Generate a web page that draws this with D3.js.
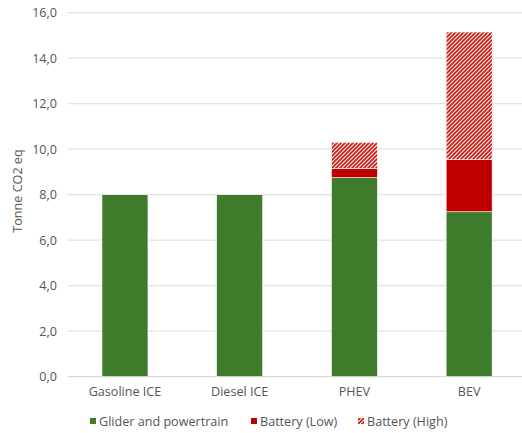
<!DOCTYPE html>
<html>
<head>
<meta charset="utf-8">
<script src="https://cdn.jsdelivr.net/npm/d3@7"></script>
<style>
  html, body { margin: 0; padding: 0; background: #fff; }
  svg { display: block; }
  text { font-family: "Open Sans", "Noto Sans", sans-serif; fill: #555555; }
</style>
</head>
<body>
<svg id="chart" width="522" height="433"></svg>
<script>
const categories = ["Gasoline ICE", "Diesel ICE", "PHEV", "BEV"];
const gliderValues = [8.0, 8.0, 8.75, 7.25];
const batteryLowValues = [0, 0, 0.4, 2.3];
const batteryHighValues = [0, 0, 1.15, 5.6];
const seriesNames = ["Glider and powertrain", "Battery (Low)", "Battery (High)"];
const yTicks = [0, 2, 4, 6, 8, 10, 12, 14, 16];

const svg = d3.select("#chart");
const margin = { left: 67.6, right: 526.5, top: 12.7, bottom: 376.7 };
const green = "#3e7b2b", red = "#c00000";
const fs = 12.6;

const defs = svg.append("defs");
const pat = defs.append("pattern")
  .attr("id", "hatch").attr("patternUnits", "userSpaceOnUse")
  .attr("width", 4).attr("height", 4);
pat.append("rect").attr("width", 4).attr("height", 4).attr("fill", "#fff");
pat.append("path")
  .attr("d", "M-1,1 l2,-2 M0,4 l4,-4 M3,5 l2,-2")
  .attr("stroke", "#cc1f17").attr("stroke-width", 1.9);

const x = d3.scaleBand().domain(categories).range([margin.left, margin.right]).paddingInner(0.6).paddingOuter(0.3);
const y = d3.scaleLinear().domain([0, 16]).range([margin.bottom, margin.top]);

// gridlines
svg.append("g").selectAll("line").data(yTicks).join("line")
  .attr("x1", margin.left).attr("x2", margin.right)
  .attr("y1", d => y(d)).attr("y2", d => y(d))
  .attr("stroke", d => d === 0 ? "#d9d9d9" : "#e3e3e3").attr("stroke-width", 1.3);

// y axis labels
const yAxis = d3.axisLeft(y).tickValues(yTicks).tickSize(0).tickPadding(0)
  .tickFormat(d => d3.format(".1f")(d).replace(".", ","));
const gy = svg.append("g").attr("transform", `translate(57,0)`).call(yAxis);
gy.select(".domain").remove();
gy.selectAll("text").attr("font-size", fs).attr("fill", "#555555")
  .style("font-family", "'Open Sans', sans-serif");

// stacked data
const stackData = categories.map((c, i) => ({
  cat: c, g: gliderValues[i], l: batteryLowValues[i], h: batteryHighValues[i]
}));
const stack = d3.stack().keys(["g", "l", "h"])(stackData);
const fills = [green, red, "url(#hatch)"];

const bw = 46;
stack.forEach((layer, k) => {
  svg.append("g").selectAll("rect").data(layer.filter(d => d[1] - d[0] > 0)).join("rect")
    .attr("x", d => x(d.data.cat) + x.bandwidth() / 2 - bw / 2)
    .attr("width", bw)
    .attr("y", d => y(d[1]))
    .attr("height", d => y(d[0]) - y(d[1]))
    .attr("fill", fills[k])
    .attr("stroke", "#fff").attr("stroke-width", 0.6);
});

// x axis labels
const xAxis = d3.axisBottom(x).tickSize(0).tickPadding(0);
const gx = svg.append("g").attr("transform", `translate(0,387)`).call(xAxis);
gx.select(".domain").remove();
gx.selectAll("text").attr("font-size", fs).attr("fill", "#555555")
  .style("font-family", "'Open Sans', sans-serif");

// y title
svg.append("text")
  .attr("transform", "translate(22,191) rotate(-90)")
  .attr("text-anchor", "middle")
  .attr("font-size", fs)
  .text("Tonne CO2 eq");

// legend
const legendX = [90, 251, 358];
const lg = svg.append("g");
seriesNames.forEach((name, i) => {
  const g = lg.append("g").attr("transform", `translate(${legendX[i]},0)`);
  g.append("rect").attr("x", 0).attr("y", 418).attr("width", 6).attr("height", 6)
    .attr("fill", fills[i]);
  g.append("text").attr("x", 9).attr("y", 426).attr("font-size", fs).text(name);
});
</script>
</body>
</html>
